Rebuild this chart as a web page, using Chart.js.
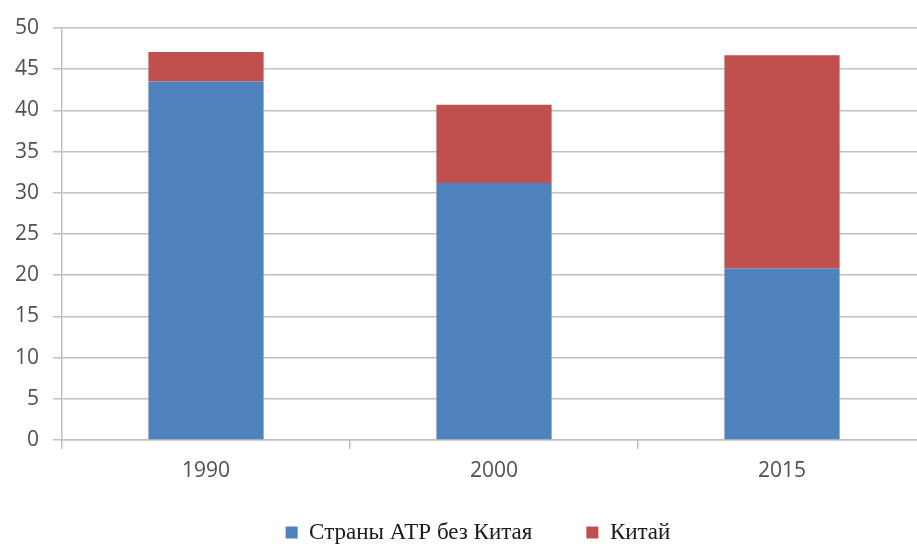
<!DOCTYPE html>
<html lang="ru">
<head>
<meta charset="utf-8">
<title>Страны АТР без Китая и Китай</title>
<script src="https://cdn.jsdelivr.net/npm/chart.js@4/dist/chart.umd.min.js"></script>
<style>
  html, body { margin: 0; padding: 0; background: #ffffff; overflow: hidden; }
  #wrap { position: absolute; left: 0; top: 0; width: 935px; height: 554px; }
</style>
</head>
<body>
<div id="wrap"><canvas id="chart" width="935" height="554"></canvas></div>
<script>
// Years shown on the category axis
const years = ['1990', '2000', '2015'];
// Stacked shares: Asia-Pacific countries excluding China, and China on top
const apacWithoutChina = [43.5, 31.2, 20.8];
const china = [3.6, 9.5, 25.9];
// Value axis
const yTicks = [0, 5, 10, 15, 20, 25, 30, 35, 40, 45, 50];

const seriesNames = ['Страны АТР без Китая', 'Китай'];
const seriesColors = ['#4f81bd', '#c0504d'];

const gridColor = '#c0c0c0';
const tickColor = '#505050';
const tickFont = { family: '"Open Sans", "DejaVu Sans", sans-serif', size: 21 };

// The axis boxes are kept narrow for the layout (so the legend sits where it should);
// widen them afterwards so their tick labels are not clipped.
const widenLabelBoxes = {
  id: 'widenLabelBoxes',
  afterLayout(chart) {
    const y = chart.scales.y;
    y.left = 0;
    y.width = y.right - y.left;
    const x = chart.scales.x;
    x.bottom = x.top + 60;
    x.height = x.bottom - x.top;
  }
};

new Chart(document.getElementById('chart'), {
  type: 'bar',
  data: {
    labels: years,
    datasets: [
      { label: seriesNames[0], data: apacWithoutChina, backgroundColor: seriesColors[0] },
      { label: seriesNames[1], data: china, backgroundColor: seriesColors[1] }
    ]
  },
  plugins: [widenLabelBoxes],
  options: {
    responsive: false,
    animation: false,
    events: [],
    layout: { padding: { top: 28, left: 30, right: 9, bottom: 0 } },
    datasets: {
      bar: { categoryPercentage: 0.4, barPercentage: 1, borderWidth: 0 }
    },
    scales: {
      x: {
        stacked: true,
        offset: true,
        grid: {
          offset: true,
          drawOnChartArea: false,
          drawTicks: true,
          tickLength: 9,
          color: gridColor,
          lineWidth: 1.5
        },
        border: { display: true, color: gridColor, width: 1.5 },
        ticks: { color: tickColor, font: tickFont, padding: 9, maxRotation: 0 },
        afterFit: (scale) => { scale.height = 27; }
      },
      y: {
        stacked: true,
        min: yTicks[0],
        max: yTicks[yTicks.length - 1],
        afterBuildTicks: (scale) => { scale.ticks = yTicks.map(v => ({ value: v })); },
        grid: { color: gridColor, lineWidth: 1.5, tickLength: 9 },
        border: { display: true, color: gridColor, width: 1.5 },
        ticks: { color: tickColor, font: tickFont, padding: 14 },
        afterFit: (scale) => { scale.width = 32; }
      }
    },
    plugins: {
      tooltip: { enabled: false },
      legend: {
        position: 'bottom',
        align: 'center',
        labels: {
          boxWidth: 12,
          boxHeight: 12,
          padding: 54,
          color: '#1a1a1a',
          font: { family: '"Liberation Serif", "Times New Roman", serif', size: 23 }
        }
      }
    }
  }
});
</script>
</body>
</html>
